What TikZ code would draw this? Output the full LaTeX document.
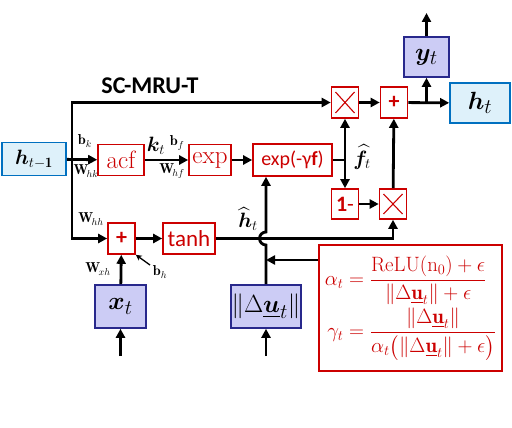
\documentclass[tikz,border=0pt]{standalone}
\usepackage{amsmath}
\usepackage{bm}
\usepackage{fontspec}
\newfontfamily\calib{Carlito}
\usetikzlibrary{arrows.meta}
\definecolor{boxred}{RGB}{204,0,0}
\definecolor{hblue}{RGB}{0,112,192}
\definecolor{hfill}{RGB}{222,241,250}
\definecolor{inblue}{RGB}{40,40,140}
\definecolor{infill}{RGB}{204,204,245}

\begin{document}
\begin{tikzpicture}[x=1pt,y=-1pt,
	wire/.style={line width=2.8pt},
	arr/.style={wire,-{Triangle[length=9pt,width=9pt]}},
	redbox/.style={draw=boxred,line width=1.6pt,fill=white,text=boxred,inner sep=0pt},
	opbox/.style={redbox,minimum width=27pt,minimum height=31pt,font=\calib\bfseries\fontsize{22}{22}\selectfont},
	mulbox/.style={redbox,minimum width=27pt,minimum height=31pt,
		path picture={\draw[boxred,line width=1.1pt]
			([xshift=4pt,yshift=-5pt]path picture bounding box.north west) -- ([xshift=-4pt,yshift=5pt]path picture bounding box.south east)
			([xshift=-4pt,yshift=-5pt]path picture bounding box.north east) -- ([xshift=4pt,yshift=5pt]path picture bounding box.south west);}},
	hbox/.style={draw=hblue,line width=1.6pt,fill=hfill,inner sep=0pt,font=\fontsize{24.88}{25}\selectfont},
	inbox/.style={draw=inblue,line width=1.6pt,fill=infill,inner sep=0pt,font=\fontsize{24.88}{25}\selectfont},
	wlabel/.style={font=\fontsize{14.4}{15}\selectfont,inner sep=0pt},
	mlabel/.style={font=\fontsize{20.74}{21}\selectfont,inner sep=0pt}]
	\useasboundingbox (0,0) rectangle (512,428);
	\node[font=\calib\bfseries\fontsize{24}{24}\selectfont] (title) at (150,86) {SC-MRU-T};
	\node[hbox,minimum width=64pt,minimum height=33pt,font=\fontsize{20.74}{21}\selectfont] (hprev) at (34,159) {$\bm{h}_{t-\mathbf{1}}$};
	\node[redbox,minimum width=46pt,minimum height=31pt,font=\fontsize{25}{25}\selectfont] (acf) at (121,160) {acf};
	\node[redbox,minimum width=42pt,minimum height=31pt,font=\fontsize{25}{25}\selectfont] (exp) at (210,160) {exp};
	\node[redbox,minimum width=79pt,minimum height=32pt,font=\calib\fontsize{20}{20}\selectfont] (expg) at (292.5,160) {exp(-γ\textbf{f})};
	\node[mulbox] (mtop) at (345,102.5) {};
	\node[opbox] (ptop) at (394,102.5) {+};
	\node[inbox,minimum width=45pt,minimum height=40pt] (yt) at (426.5,57) {$\bm{y}_t$};
	\node[hbox,minimum width=60pt,minimum height=40pt] (ht) at (480,103) {$\bm{h}_t$};
	\node[opbox,minimum height=30pt] (one) at (345,204) {1\textmd{-}};
	\node[mulbox,minimum height=30pt] (mbot) at (393,204) {};
	\node[opbox] (plow) at (121.5,238.5) {+};
	\node[redbox,minimum width=52pt,minimum height=31pt,font=\calib\fontsize{23}{23}\selectfont] (tanh) at (189,238.5) {tanh};
	\node[inbox,minimum width=51pt,minimum height=43pt] (xt) at (120.5,306.5) {$\bm{x}_t$};
	\node[inbox,minimum width=70pt,minimum height=43pt] (du) at (266,306.5) {$\|\Delta\underline{\bm{u}}_t\|$};
	\node[redbox,minimum width=183pt,minimum height=126pt,font=\fontsize{20.74}{21}\selectfont] (eq) at (410.5,308) {$\displaystyle
		\begin{aligned}
		\alpha_t &= \frac{\mathrm{ReLU}(\mathrm{n}_0)+\epsilon}{\|\Delta\underline{\mathbf{u}}_t\|+\epsilon}\\[-1pt]
		\gamma_t &= \frac{\|\Delta\underline{\mathbf{u}}_t\|}{\alpha_t\bigl(\|\Delta\underline{\mathbf{u}}_t\|+\epsilon\bigr)}
		\end{aligned}$};
	\coordinate (split) at (72,160);
	\coordinate (fsplit) at (345,160);
	\coordinate (ysplit) at (426.5,103);
	\coordinate (yout) at (426.5,13);
	\coordinate (xin) at (120.5,356);
	\coordinate (duin) at (266,356);
	\coordinate (bh) at (150,265);
	\draw[arr] (hprev) -- (acf);
	\draw[arr] (split) -- (72,102.5) -- (mtop);
	\draw[arr] (split) -- (72,238.5) -- (plow);
	\draw[arr] (acf) -- (exp);
	\draw[arr] (exp) -- (expg);
	\draw[wire] (expg) -- (fsplit);
	\draw[arr] (fsplit) -- (mtop);
	\draw[arr] (fsplit) -- (one);
	\draw[arr] (mtop) -- (ptop);
	\draw[arr] (ptop) -- (ht);
	\draw[arr] (ysplit) -- (yt);
	\draw[arr] (yt) -- (yout);
	\draw[arr] (one) -- (mbot);
	\draw[arr] (mbot) -- (ptop);
	\draw[arr] (plow) -- (tanh);
	\draw[arr] (tanh) -- (tanh.east -| mbot) -- (mbot);
	\draw[arr] (xt) -- (plow);
	\draw[arr] (xin) -- (xt);
	\draw[arr] (duin) -- (du);
	\draw[arr] (du) -- (266,245) arc[start angle=-90,end angle=-270,radius=6.5pt] -- (expg.south -| du.north);
	\draw[arr] (eq.west |- 0,260) -- (266,260);
	\draw[-{Stealth[length=6pt,width=6pt]},line width=1.3pt] (bh) -- (plow.south east);
	\node[wlabel] (bk) at (85,141) {$\mathbf{b}_k$};
	\node[wlabel] (whk) at (86,171) {$\mathbf{W}_{\!hk}$};
	\node[mlabel] (kt) at (156,146) {$\bm{k}_t$};
	\node[wlabel] (bf) at (177,143) {$\mathbf{b}_f$};
	\node[wlabel] (whf) at (172,171) {$\mathbf{W}_{\!hf}$};
	\node[wlabel] (whh) at (91,219) {$\mathbf{W}_{\!hh}$};
	\node[wlabel] (wxh) at (98,269) {$\mathbf{W}_{\!xh}$};
	\node[wlabel] (bhl) at (160,272) {$\mathbf{b}_h$};
	\node[mlabel] (hhat) at (248,219) {$\widehat{\bm{h}}_t$};
	\node[mlabel] (fhat) at (362,157) {$\widehat{\bm{f}}_t$};
\end{tikzpicture}
\end{document}
